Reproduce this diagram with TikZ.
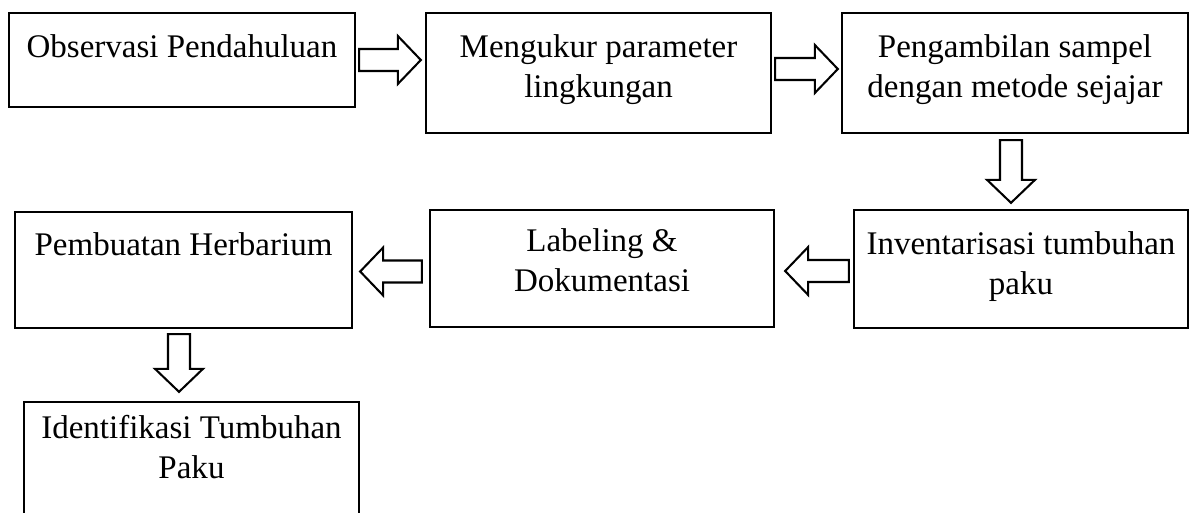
\documentclass[tikz,border=0pt]{standalone}
\usepackage{fontspec}
\setmainfont{Liberation Serif}
\usetikzlibrary{calc}
\tikzset{
  box/.style={draw=black, line width=0.85pt, inner sep=0pt, rectangle},
  txt/.style={inner sep=0pt, align=center, font=\fontsize{12pt}{14.5pt}\selectfont},
  barrow/.style={draw=black, fill=white, line width=0.75pt, line join=miter}
}
\newcommand{\rightblock}[2]{%
  \draw[barrow] ($(#1)+(0,-11)$) -- ($(#2)+(-23,-11)$) -- ($(#2)+(-23,-24)$) -- (#2)
    -- ($(#2)+(-23,24)$) -- ($(#2)+(-23,11)$) -- ($(#1)+(0,11)$) -- cycle;}
\newcommand{\leftblock}[2]{%
  \draw[barrow] ($(#1)+(0,-11)$) -- ($(#2)+(23,-11)$) -- ($(#2)+(23,-24)$) -- (#2)
    -- ($(#2)+(23,24)$) -- ($(#2)+(23,11)$) -- ($(#1)+(0,11)$) -- cycle;}
\newcommand{\downblock}[2]{%
  \draw[barrow] ($(#1)+(-11,0)$) -- ($(#2)+(-11,-23)$) -- ($(#2)+(-24,-23)$) -- (#2)
    -- ($(#2)+(24,-23)$) -- ($(#2)+(11,-23)$) -- ($(#1)+(11,0)$) -- cycle;}
\begin{document}
\begin{tikzpicture}[x=0.3636pt, y=-0.3636pt]
\useasboundingbox (0,0) rectangle (1199,513);
\clip (0,0) rectangle (1199,513);
\fill[white] (0,0) rectangle (1199,513);

% boxes
\node[box, minimum width={346*0.3636pt}, minimum height={94*0.3636pt}] (B1) at (182,60) {};
\node[box, minimum width={345*0.3636pt}, minimum height={120*0.3636pt}] (B2) at (598.5,73) {};
\node[box, minimum width={346*0.3636pt}, minimum height={120*0.3636pt}] (B3) at (1015,73) {};
\node[box, minimum width={334*0.3636pt}, minimum height={118*0.3636pt}] (B4) at (1021,269) {};
\node[box, minimum width={344*0.3636pt}, minimum height={117*0.3636pt}] (B5) at (602,268.5) {};
\node[box, minimum width={337*0.3636pt}, minimum height={116*0.3636pt}] (B6) at (183.5,270) {};
\node[box, minimum width={335*0.3636pt}, minimum height={128*0.3636pt}] (B7) at (191.5,466) {};

% texts
\node[txt, anchor=north] (T1) at ($(B1.north)+(0,17)$) {\strut Observasi Pendahuluan};
\node[txt, anchor=north] (T2) at ($(B2.north)+(0,17)$) {\strut Mengukur parameter\\lingkungan};
\node[txt, anchor=north] (T3) at ($(B3.north)+(0,17)$) {\strut Pengambilan sampel\\dengan metode sejajar};
\node[txt, anchor=north] (T4) at ($(B4.north)+(0,17)$) {\strut Inventarisasi tumbuhan\\paku};
\node[txt, anchor=north] (T5) at ($(B5.north)+(0,14)$) {\strut Labeling \&\\Dokumentasi};
\node[txt, anchor=north] (T6) at ($(B6.north)+(0,16)$) {\strut Pembuatan Herbarium};
\node[txt, anchor=north] (T7) at ($(B7.north)+(0,9)$) {\strut Identifikasi Tumbuhan\\Paku};

% connectors (block arrows)
\coordinate (a1s) at ($(B1.east)+(3,0)$);
\coordinate (a1t) at ($(a1s -| B2.west)+(-4,0)$);
\rightblock{a1s}{a1t}
\coordinate (a2s) at ($(B2.east)+(3,-4)$);
\coordinate (a2t) at ($(a2s -| B3.west)+(-3,0)$);
\rightblock{a2s}{a2t}
\coordinate (a3s) at ($(B3.south)+(-4,6)$);
\coordinate (a3t) at ($(a3s |- B4.north)+(0,-6)$);
\downblock{a3s}{a3t}
\coordinate (a4s) at ($(B4.west)+(-4,2)$);
\coordinate (a4t) at ($(a4s -| B5.east)+(10,0)$);
\leftblock{a4s}{a4t}
\coordinate (a5s) at ($(B5.west)+(-7,3)$);
\coordinate (a5t) at ($(a5s -| B6.east)+(7,0)$);
\leftblock{a5s}{a5t}
\coordinate (a6s) at ($(B6.south)+(-4.5,5)$);
\coordinate (a6t) at ($(a6s |- B7.north)+(0,-9)$);
\downblock{a6s}{a6t}
\end{tikzpicture}
\end{document}
